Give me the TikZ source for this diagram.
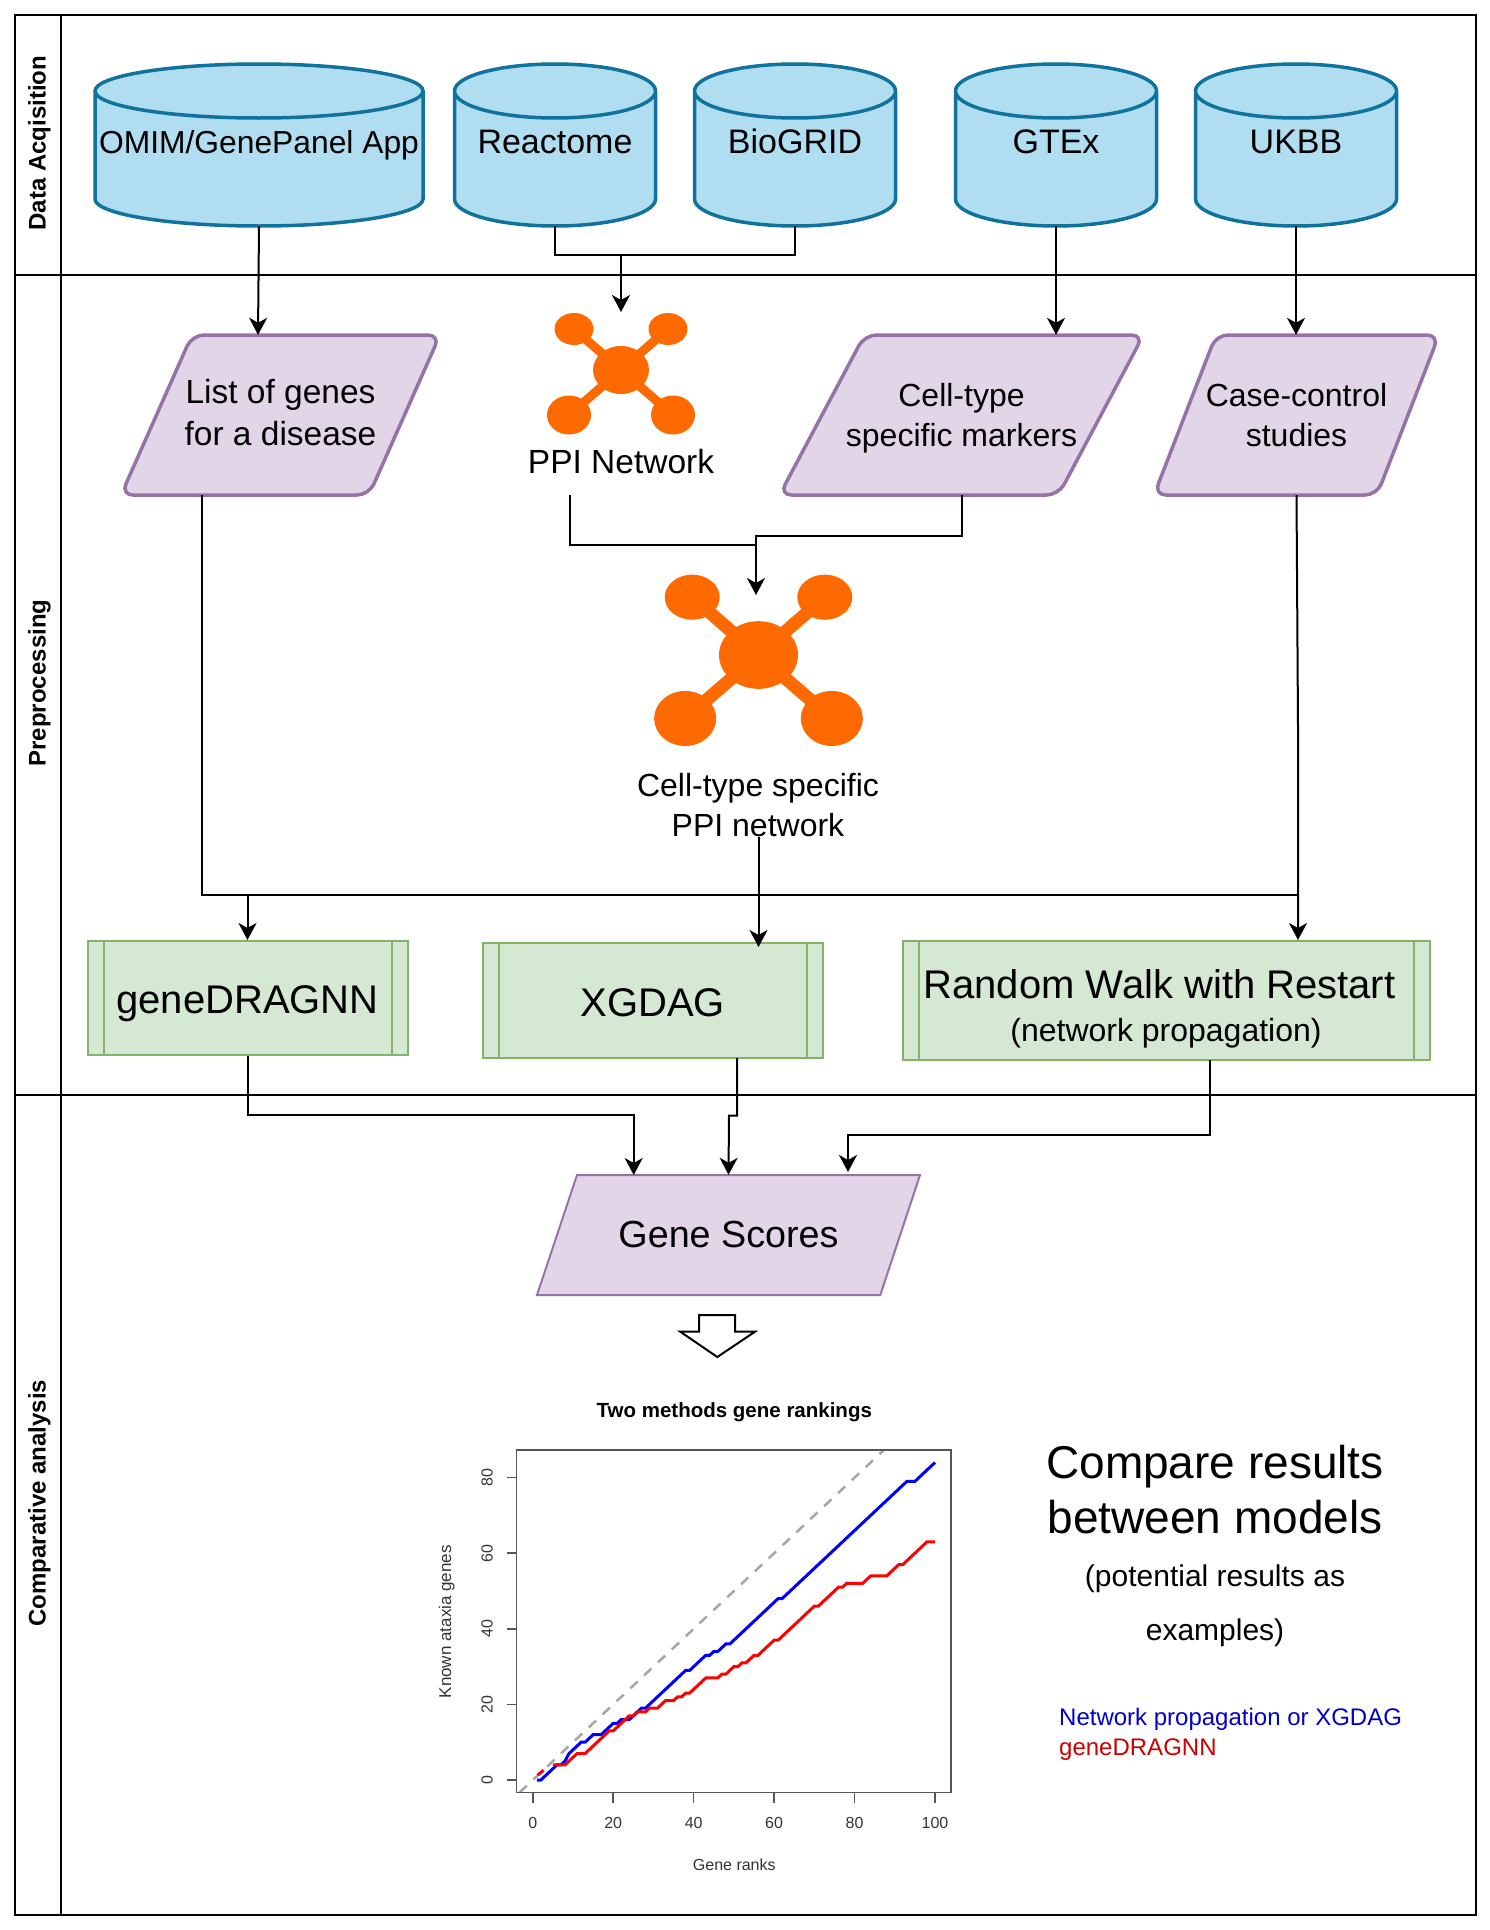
\documentclass[tikz,border=0pt]{standalone}
\usepackage{fontspec}
\setmainfont{Liberation Sans}
\usetikzlibrary{arrows.meta}
\definecolor{dbfill}{HTML}{B1DDF0}
\definecolor{dbline}{HTML}{10739E}
\definecolor{datafill}{HTML}{E1D5E7}
\definecolor{dataline}{HTML}{9673A6}
\definecolor{procfill}{HTML}{D5E8D4}
\definecolor{procline}{HTML}{82B366}
\definecolor{ppicol}{HTML}{FF6A00}
\definecolor{axiscol}{HTML}{555555}
\definecolor{textcol}{HTML}{333333}
\newcommand{\fsize}[2]{\fontsize{#1}{#2}\selectfont}
\tikzset{
    lane/.style={rotate=90, font=\fsize{24}{28}\bfseries},
    dbase/.style={inner sep=0pt, minimum height=163pt, font=\fsize{34}{40}, text height=25pt, text depth=7pt},
    dataedge/.style={draw=dataline, fill=datafill, line width=3.5pt, rounded corners=12pt},
    datain/.style={inner sep=0pt, minimum height=160pt, align=center},
    process/.style 2 args={draw=procline, fill=procfill, line width=2pt, inner sep=0pt, align=center,
        minimum width=#1, minimum height=#2,
        path picture={
            \draw [procline, line width=2pt]
                ([xshift=16pt]path picture bounding box.north west) -- ([xshift=16pt]path picture bounding box.south west)
                ([xshift=-16pt]path picture bounding box.north east) -- ([xshift=-16pt]path picture bounding box.south east);
        }},
    link/.style={-{Stealth[length=17pt, width=18pt, inset=5pt]}, line width=2pt},
    tick/.style={axiscol, line width=1.5pt},
    ticktext/.style={textcol, font=\fsize{16}{18}},
    ppi/.pic={
        \foreach \px/\py in {-47/-41, 47/-41, -52/45, 52/45}
            \draw [ppicol] (0, 0) -- (\px, \py);
        \fill [ppicol] (0, 0) ellipse (28pt and 24pt);
        \fill [ppicol] (-47, -41) ellipse (19.5pt and 16pt);
        \fill [ppicol] (47, -41) ellipse (19.5pt and 16pt);
        \fill [ppicol] (-52, 45) ellipse (22pt and 19.5pt);
        \fill [ppicol] (52, 45) ellipse (22pt and 19.5pt);
    },
}
\begin{document}
\begin{tikzpicture}[x=1pt, y=-1pt]
    \useasboundingbox (0, 0) rectangle (1490, 1930);
    \draw [line width=2pt] (15, 15) rectangle (1476, 1915);
    \draw [line width=2pt] (61, 15) -- (61, 1915);
    \draw [line width=2pt] (15, 275) -- (1476, 275);
    \draw [line width=2pt] (15, 1095) -- (1476, 1095);

    \node [lane] (acqlane) at (39.5, 143) {Data Acqisition};
    \node [lane] (prelane) at (39.5, 683) {Preprocessing};
    \node [lane] (cmplane) at (39.5, 1503) {Comparative analysis};

    \foreach \dbname/\cx/\rx/\dbtext in {omim/259/164/{\fsize{31.8}{40}OMIM/GenePanel App},
            reactome/555/100.5/Reactome, biogrid/795/100.5/BioGRID, gtex/1056/100.5/GTEx, ukbb/1296/100.5/UKBB} {
        \draw [draw=dbline, fill=dbfill, line width=3.5pt] (\cx, 91) ++(-\rx pt, 0pt) -- ++(0pt, -108pt)
            arc [start angle=180, end angle=360, x radius=\rx pt, y radius=27pt] -- ++(0pt, 108pt)
            arc [start angle=0, end angle=180, x radius=\rx pt, y radius=27pt]
            arc [start angle=180, end angle=360, x radius=\rx pt, y radius=27pt];
        \node [dbase] (\dbname) at (\cx, 144.5) {\dbtext};
    }

    \draw [dataedge] (192, 335) -- (440, 335) -- (369, 495) -- (121, 495) -- cycle;
    \node [datain, minimum width=248pt, font=\fsize{33.5}{42}] (genelist) at (280.5, 415) {List of genes\\for a disease\rule[-5pt]{0pt}{5pt}};
    \draw [dataedge] (864.5, 335) -- (1143.5, 335) -- (1058.5, 495) -- (779.5, 495) -- cycle;
    \node [datain, minimum width=279pt, font=\fsize{32}{39.5}] (markers) at (961.5, 415) {\rule{0pt}{30pt}Cell-type\\specific markers};
    \draw [dataedge] (1216, 335) -- (1439, 335) -- (1377, 495) -- (1154, 495) -- cycle;
    \node [datain, minimum width=223pt, font=\fsize{32}{39.5}] (cases) at (1296.5, 415) {Case-control\\studies};

    \pic [line width=9pt] at (621, 370) {ppi};
    \pic [line width=13pt, scale=1.41] at (758.5, 655) {ppi};
    \node [font=\fsize{33.5}{40}] (ppilabel) at (621, 462) {PPI Network};
    \node [font=\fsize{32}{39.5}, align=center] (cellppi) at (758, 805) {Cell-type specific\\PPI network};

    \node [process={320pt}{114pt}, font=\fsize{40}{46}] (dragnn) at (247.5, 998) {\rule{0pt}{39pt}geneDRAGNN};
    \node [process={340pt}{115pt}, font=\fsize{40}{46}] (xgdag) at (652.6, 1000.5) {\rule{0pt}{33pt}XGDAG};
    \node [process={527pt}{119pt}, font=\fsize{40}{44}] (rwr) at (1166, 1000.5)
        {\rule{0pt}{45pt}Random Walk with Restart\hspace*{13pt}\\[-1pt]{\fsize{32}{38}(network propagation)}};

    \draw [dataedge, line width=2pt, rounded corners=0pt] (577, 1175) -- (920, 1175) -- (880.3, 1295) -- (537, 1295) -- cycle;
    \node [datain, minimum height=120pt, minimum width=303pt, font=\fsize{37.7}{44}] (scores) at (728.5, 1235) {Gene Scores};
    \draw [line width=2pt, fill=white] (699, 1315) -- (735, 1315) -- (735, 1331.7) -- (755, 1331.7)
        -- (717.3, 1357) -- (680.3, 1331.7) -- (699, 1331.7) -- cycle;

    \coordinate (ppihead) at (621, 312);
    \coordinate (ppijoin) at (621, 255);
    \coordinate (markerjoin) at (756, 535.6);
    \coordinate (ppidrop) at (570, 545);
    \coordinate (cellhead) at (756, 595);
    \coordinate (modeljoin) at (202, 895);
    \coordinate (casebend) at (1298, 727);

    \draw [link] (omim.south) -- ([xshift=-22.5pt]genelist.north);
    \draw [line width=2pt] (reactome.south) |- (ppijoin) -| (biogrid.south);
    \draw [link] (ppijoin) -- (ppihead);
    \draw [link] (gtex.south) -- (gtex.south |- markers.north);
    \draw [link] (ukbb.south) -- (ukbb.south |- cases.north);
    \draw [line width=2pt] (570, 495) -- (ppidrop) -- (markerjoin |- ppidrop);
    \draw [link] (markers.south) |- (markerjoin) -- (cellhead);
    \draw [line width=2pt] ([xshift=-78.5pt]genelist.south) -- (modeljoin) -- (1298, 895);
    \draw [link] (247.5, 895) -- (dragnn.north);
    \draw [link] (cases.south) -- (casebend) -- ([xshift=132pt]rwr.north);
    \draw [link] (758.5, 837) -- (758.5, 947);
    \draw [link] (dragnn.south) |- (633.7, 1115) -- (633.7, 1175);
    \draw [link] (737, 1058) -- (737, 1115.7) -- (729, 1115.7) -- (scores.north);
    \draw [link] (1209.8, 1060) |- (848, 1134.7) -- (848, 1172);

    \node [font=\fsize{20.5}{24}\bfseries] (charttitle) at (734.3, 1412) {Two methods gene rankings};
    \node [ticktext] (xlabel) at (734.3, 1865) {Gene ranks};
    \node [ticktext, rotate=90, font=\fsize{17}{20}] (ylabel) at (446.7, 1621.7) {Known ataxia genes};

    \begin{scope}[xshift=532.8pt, yshift=-1780pt, x=4.022pt, y=3.78pt]
        \foreach \t in {0, 20, 40, 60, 80, 100} {
            \draw [tick] (\t, -3.36) -- ++(0pt, -10pt);
            \node [ticktext, yshift=-30.3pt] (xtick\t) at (\t, -3.36) {\t};
        }
        \foreach \t in {0, 20, 40, 60, 80} {
            \draw [tick] (-4, \t) -- ++(-10pt, 0pt);
            \node [ticktext, rotate=90, yshift=29.7pt] (ytick\t) at (-4, \t) {\t};
        }
        \draw [gray!70, line width=2.5pt, dash pattern=on 10pt off 9pt] (-3.3, -3.3) -- (87.3, 87.3);
        \draw [red, line width=3pt] (1.2, 1.3) -- (2.7, 2.6);
        \draw [blue, line width=3pt] plot coordinates {
            (1,0) (2,0) (3,1) (4,2) (5,3) (6,4) (7,4) (8,5) (9,7) (10,8) (11,9) (12,10) (13,10) (14,11) (15,12)
            (16,12) (17,12) (18,13) (19,14) (20,15) (21,15) (22,16) (23,16) (24,16) (25,17) (26,18) (27,19)
            (28,19) (29,20) (30,21) (31,22) (32,23) (33,24) (34,25) (35,26) (36,27) (37,28) (38,29) (39,29)
            (40,30) (41,31) (42,32) (43,33) (44,33) (45,34) (46,34) (47,35) (48,36) (49,36) (50,37) (51,38)
            (52,39) (53,40) (54,41) (55,42) (56,43) (57,44) (58,45) (59,46) (60,47) (61,48) (62,48) (63,49)
            (64,50) (65,51) (66,52) (67,53) (68,54) (69,55) (70,56) (71,57) (72,58) (73,59) (74,60) (75,61)
            (76,62) (77,63) (78,64) (79,65) (80,66) (81,67) (82,68) (83,69) (84,70) (85,71) (86,72) (87,73)
            (88,74) (89,75) (90,76) (91,77) (92,78) (93,79) (94,79) (95,79) (96,80) (97,81) (98,82) (99,83) (100,84)};
        \draw [red, line width=3pt] plot coordinates {
            (5,4) (6,4) (7,4) (8,4) (9,5) (10,6) (11,7) (12,7) (13,7) (14,8) (15,9) (16,10) (17,11) (18,12)
            (19,13) (20,13) (21,14) (22,15) (23,16) (24,17) (25,17) (26,18) (27,18) (28,18) (29,19) (30,19)
            (31,19) (32,20) (33,21) (34,21) (35,21) (36,22) (37,22) (38,23) (39,23) (40,24) (41,25) (42,26)
            (43,27) (44,27) (45,27) (46,27) (47,28) (48,28) (49,29) (50,30) (51,30) (52,31) (53,31) (54,32)
            (55,33) (56,33) (57,34) (58,35) (59,36) (60,37) (61,37) (62,38) (63,39) (64,40) (65,41) (66,42)
            (67,43) (68,44) (69,45) (70,46) (71,46) (72,47) (73,48) (74,49) (75,50) (76,51) (77,51) (78,52)
            (79,52) (80,52) (81,52) (82,52) (83,53) (84,54) (85,54) (86,54) (87,54) (88,54) (89,55) (90,56)
            (91,57) (92,57) (93,58) (94,59) (95,60) (96,61) (97,62) (98,63) (99,63) (100,63)};
        \draw [axiscol, line width=1.5pt] (-4, -3.36) rectangle (104, 87.3);
    \end{scope}

    \node [font=\fsize{46}{55.3}, align=center] (comparehead) at (1215, 1489.4) {Compare results\\between models};
    \node [font=\fsize{30}{54.3}, align=center] (comparenote) at (1215, 1605.8) {(potential results as\\examples)};
    \node [font=\fsize{24}{30}, text=blue!80!black, anchor=west, inner sep=0pt] (legendblue) at (1059, 1719) {Network propagation or XGDAG};
    \node [font=\fsize{24}{30}, text=red!80!black, anchor=west, inner sep=0pt] (legendred) at (1059, 1749.5) {geneDRAGNN};
\end{tikzpicture}
\end{document}
